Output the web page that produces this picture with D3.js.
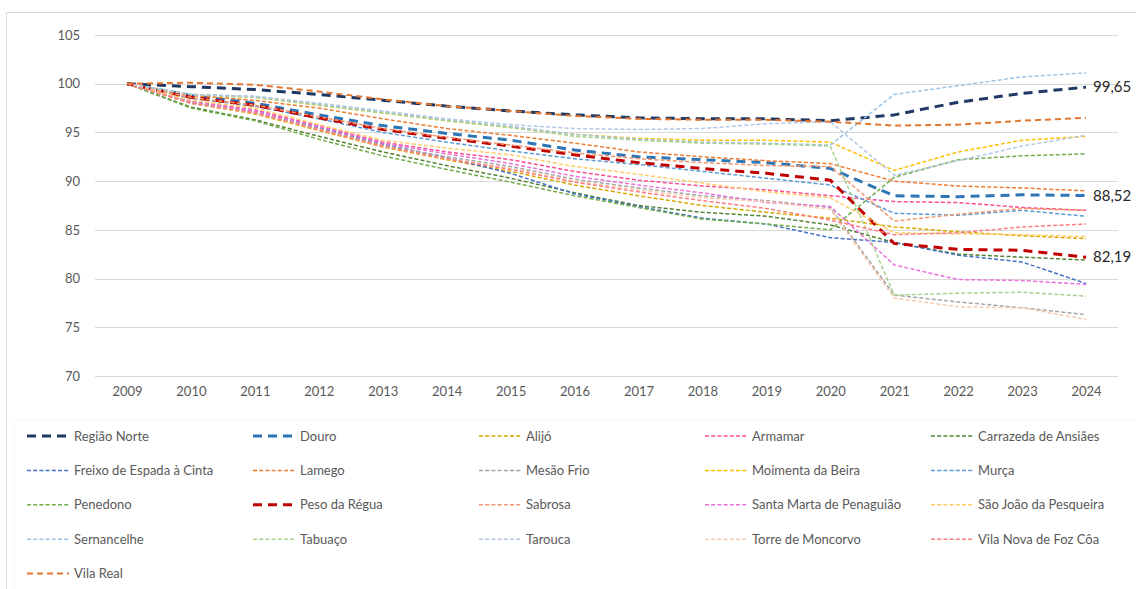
<!DOCTYPE html>
<html>
<head>
<meta charset="utf-8">
<script src="https://cdn.jsdelivr.net/npm/d3@7"></script>
<style>
    body { margin: 0; background: #ffffff; }
    svg { display: block; font-family: Lato, "Open Sans", sans-serif; }
</style>
</head>
<body>
<div id="chart"></div>
<script>

var years = ["2009", "2010", "2011", "2012", "2013", "2014", "2015", "2016", "2017", "2018", "2019", "2020", "2021", "2022", "2023", "2024"];
var yTicks = [70, 75, 80, 85, 90, 95, 100, 105];

// index values, 2009 = 100
var regiaoNorte = [100, 99.7, 99.4, 98.9, 98.3, 97.7, 97.2, 96.8, 96.5, 96.4, 96.4, 96.2, 96.8, 98.1, 99.0, 99.65];
var douro = [100, 98.8, 98.0, 96.8, 95.7, 94.9, 94.2, 93.2, 92.5, 92.2, 91.9, 91.3, 88.5, 88.4, 88.6, 88.52];
var alijo = [100, 98.0, 96.9, 95.2, 93.5, 92.2, 91.0, 89.6, 88.5, 87.5, 86.8, 86.2, 85.3, 84.8, 84.4, 84.1];
var armamar = [100, 98.2, 97.3, 95.7, 94.0, 93.0, 92.2, 91.0, 90.1, 89.5, 89.1, 88.5, 87.9, 87.8, 87.3, 87.0];
var carrazeda = [100, 97.6, 96.3, 94.6, 93.0, 91.6, 90.3, 88.8, 87.5, 86.8, 86.4, 85.5, 83.7, 82.5, 82.2, 81.9];
var freixo = [100, 98.1, 97.1, 95.5, 93.8, 92.4, 90.8, 88.7, 87.4, 86.2, 85.6, 84.2, 83.7, 82.4, 81.7, 79.5];
var lamego = [100, 98.8, 98.3, 97.5, 96.4, 95.4, 94.7, 93.9, 93.0, 92.5, 92.1, 91.8, 90.0, 89.5, 89.3, 89.0];
var mesaoFrio = [100, 98.1, 97.1, 95.4, 93.7, 92.5, 91.5, 90.2, 89.3, 88.5, 88.0, 87.3, 78.3, 77.6, 77.0, 76.3];
var moimenta = [100, 98.9, 98.6, 97.8, 97.0, 96.2, 95.5, 94.8, 94.4, 94.2, 94.2, 94.0, 91.1, 93.0, 94.2, 94.6];
var murca = [100, 98.5, 97.7, 96.4, 95.0, 94.0, 93.1, 92.3, 91.7, 91.0, 90.3, 89.6, 86.7, 86.5, 87.0, 86.4];
var penedono = [100, 97.5, 96.2, 94.3, 92.6, 91.2, 89.9, 88.5, 87.3, 86.1, 85.6, 85.0, 90.4, 92.2, 92.6, 92.8];
var pesoRegua = [100, 98.6, 97.8, 96.5, 95.3, 94.4, 93.6, 92.7, 91.9, 91.3, 90.8, 90.1, 83.6, 83.0, 82.9, 82.19];
var sabrosa = [100, 98.6, 97.8, 96.6, 95.4, 94.5, 93.7, 92.9, 92.3, 91.9, 91.6, 91.5, 85.9, 86.6, 87.2, 87.0];
var santaMarta = [100, 98.2, 97.2, 95.6, 93.9, 92.8, 91.8, 90.5, 89.6, 88.8, 87.8, 87.4, 81.4, 79.9, 79.8, 79.4];
var saoJoao = [100, 98.3, 97.5, 95.8, 94.2, 93.4, 92.7, 91.5, 90.7, 89.8, 88.9, 88.3, 84.7, 84.6, 84.5, 84.3];
var sernancelhe = [100, 98.9, 98.7, 97.9, 97.1, 96.3, 95.6, 94.8, 94.3, 94.0, 93.9, 93.7, 98.9, 99.8, 100.7, 101.1];
var tabuaco = [100, 98.9, 98.6, 97.8, 97.0, 96.2, 95.5, 94.6, 94.2, 93.9, 93.8, 93.6, 78.3, 78.5, 78.6, 78.2];
var tarouca = [100, 98.9, 98.7, 98.0, 97.2, 96.4, 95.8, 95.4, 95.3, 95.4, 95.9, 96.1, 90.6, 92.1, 93.6, 94.7];
var torreMoncorvo = [100, 98.0, 97.0, 95.3, 93.6, 92.3, 91.3, 90.0, 89.1, 88.3, 87.9, 87.1, 78.0, 77.1, 77.0, 75.8];
var vilaNovaFozCoa = [100, 98.0, 97.0, 95.3, 93.6, 92.3, 91.2, 89.9, 88.9, 88.0, 87.2, 86.0, 84.5, 84.7, 85.3, 85.6];
var vilaReal = [100, 100.1, 99.9, 99.2, 98.4, 97.7, 97.2, 96.7, 96.4, 96.3, 96.3, 96.1, 95.7, 95.8, 96.2, 96.5];

var seriesNames = ["Região Norte", "Douro", "Alijó", "Armamar", "Carrazeda de Ansiães",
    "Freixo de Espada à Cinta", "Lamego", "Mesão Frio", "Moimenta da Beira", "Murça",
    "Penedono", "Peso da Régua", "Sabrosa", "Santa Marta de Penaguião", "São João da Pesqueira",
    "Sernancelhe", "Tabuaço", "Tarouca", "Torre de Moncorvo", "Vila Nova de Foz Côa", "Vila Real"];
var seriesValues = [regiaoNorte, douro, alijo, armamar, carrazeda, freixo, lamego, mesaoFrio, moimenta, murca,
    penedono, pesoRegua, sabrosa, santaMarta, saoJoao, sernancelhe, tabuaco, tarouca, torreMoncorvo, vilaNovaFozCoa, vilaReal];
var labelledSeries = ["Região Norte", "Douro", "Peso da Régua"];

// styles
var seriesColors = ["#203864", "#2e75b6", "#d9a800", "#ff4d94", "#548235",
    "#4472c4", "#ed7d31", "#a5a5a5", "#ffc000", "#5b9bd5",
    "#70ad47", "#c00000", "#f4976c", "#ea6fdc", "#ffcc66",
    "#9dc3e6", "#a9d18e", "#b4c7e7", "#f8cbad", "#ff7c80", "#e2762f"];
var seriesKind = ["thick", "thick", "thin", "thin", "thin",
    "thin", "thin", "thin", "thin", "thin",
    "thin", "thick", "thin", "thin", "thin",
    "thin", "thin", "thin", "thin", "thin", "medium"];

var lineStyles = {
    thick: { width: 3, dash: "9,6" },
    medium: { width: 2, dash: "6,4" },
    thin: { width: 1.5, dash: "4,2.2" }
};

var W = 1136, H = 589;
var plot = { left: 95, right: 1118, top: 35, bottom: 376 };

var svg = d3.select("#chart").append("svg")
    .attr("width", W)
    .attr("height", H);

// chart frame
svg.append("rect")
    .attr("x", 6.5).attr("y", 12.5)
    .attr("width", W + 10).attr("height", H + 10)
    .attr("fill", "none")
    .attr("stroke", "#d9d9d9");

var x = d3.scalePoint().domain(years).range([plot.left, plot.right]).padding(0.5);
var y = d3.scaleLinear().domain([70, 105]).range([plot.bottom, plot.top]);

// gridlines
svg.append("g")
    .selectAll("line")
    .data(yTicks)
    .enter().append("line")
    .attr("x1", plot.left).attr("x2", plot.right)
    .attr("y1", function (d) { return Math.round(y(d)) + 0.5; })
    .attr("y2", function (d) { return Math.round(y(d)) + 0.5; })
    .attr("stroke", "#d9d9d9")
    .attr("stroke-width", 1);

// y axis labels
var yAxis = d3.axisLeft(y).tickValues(yTicks).tickSize(0).tickPadding(0);
svg.append("g")
    .attr("transform", "translate(" + 80 + ",0)")
    .call(yAxis)
    .call(function (g) { g.select(".domain").remove(); })
    .selectAll("text")
    .attr("fill", "#595959")
    .style("font-size", "13px")
    .style("font-family", "Lato, sans-serif");

// x axis labels
var xAxis = d3.axisBottom(x).tickSize(0).tickPadding(0);
svg.append("g")
    .attr("transform", "translate(0," + 387 + ")")
    .call(xAxis)
    .call(function (g) { g.select(".domain").remove(); })
    .selectAll("text")
    .attr("fill", "#595959")
    .attr("dy", "0.71em")
    .style("font-size", "13px")
    .style("font-family", "Lato, sans-serif");

var line = d3.line()
    .x(function (d, i) { return x(years[i]); })
    .y(function (d) { return y(d); });

var series = seriesNames.map(function (name, i) {
    return { name: name, values: seriesValues[i], color: seriesColors[i], style: lineStyles[seriesKind[i]] };
});

svg.append("g")
    .selectAll("path")
    .data(series)
    .enter().append("path")
    .attr("d", function (d) { return line(d.values); })
    .attr("fill", "none")
    .attr("stroke", function (d) { return d.color; })
    .attr("stroke-width", function (d) { return d.style.width; })
    .attr("stroke-dasharray", function (d) { return d.style.dash; })
    .attr("stroke-linejoin", "round");

// end labels
var fmt = d3.format(".2f");
svg.append("g")
    .selectAll("text")
    .data(series.filter(function (s) { return labelledSeries.indexOf(s.name) >= 0; }))
    .enter().append("text")
    .attr("x", x(years[years.length - 1]) + 7)
    .attr("y", function (d) { return y(d.values[d.values.length - 1]); })
    .attr("dy", "0.35em")
    .attr("fill", "#262626")
    .style("font-size", "15px")
    .style("font-family", "Lato, sans-serif")
    .text(function (d) { return fmt(d.values[d.values.length - 1]).replace(".", ","); });

// legend
var legendCols = 5, colW = 226, rowH = 34.4, legX = 27, legY = 436, sampleW = 42;
svg.append("rect")
    .attr("x", 14.5).attr("y", 420.5)
    .attr("width", W).attr("height", 170)
    .attr("fill", "none")
    .attr("stroke", "#eeeeee")
    .attr("stroke-dasharray", "1,1");

var legend = svg.append("g")
    .selectAll("g")
    .data(series)
    .enter().append("g")
    .attr("transform", function (d, i) {
        return "translate(" + (legX + (i % legendCols) * colW) + "," + (legY + Math.floor(i / legendCols) * rowH) + ")";
    });

legend.append("line")
    .attr("x1", 0).attr("x2", sampleW)
    .attr("y1", 0).attr("y2", 0)
    .attr("stroke", function (d) { return d.color; })
    .attr("stroke-width", function (d) { return d.style.width; })
    .attr("stroke-dasharray", function (d) { return d.style.dash; });

legend.append("text")
    .attr("x", sampleW + 5)
    .attr("y", 0)
    .attr("dy", "0.35em")
    .attr("fill", "#595959")
    .style("font-size", "13px")
    .style("font-family", "Lato, sans-serif")
    .text(function (d) { return d.name; });

</script>
</body>
</html>
